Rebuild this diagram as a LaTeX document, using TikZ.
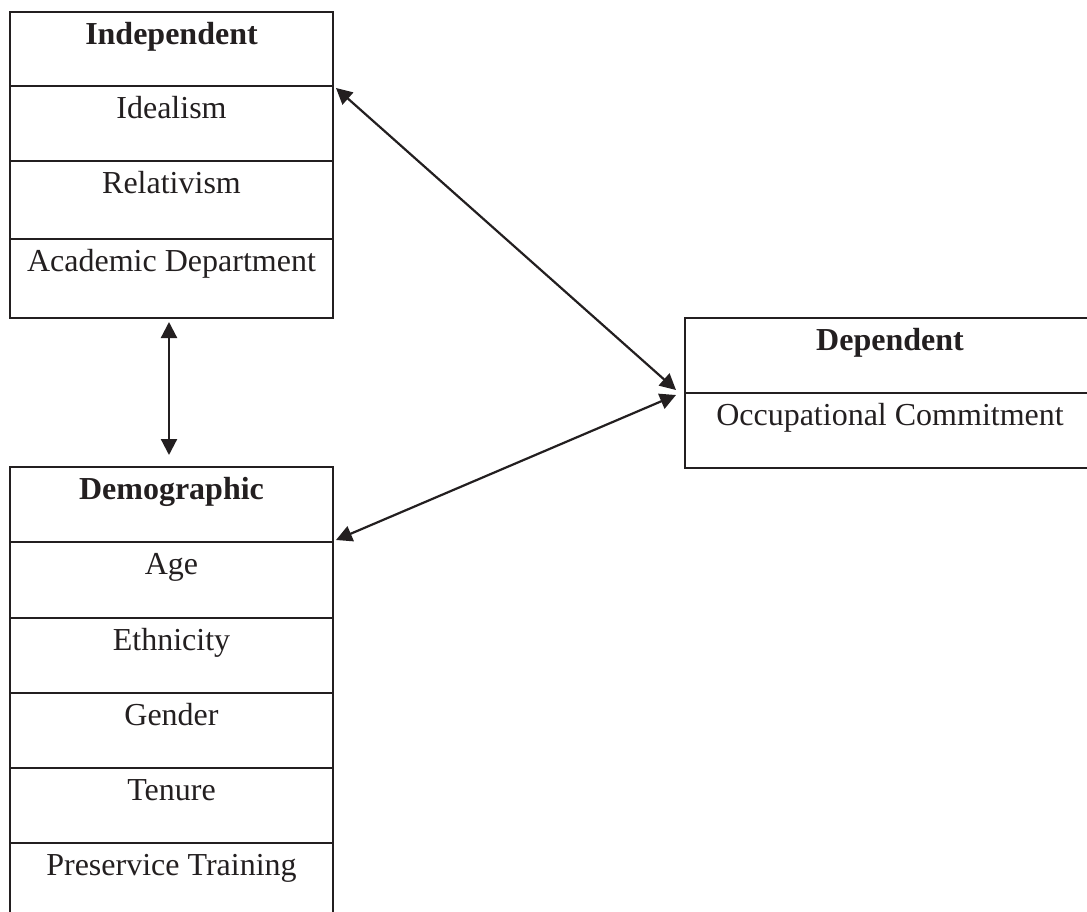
\documentclass[tikz,border=0pt]{standalone}
\usepackage{fontspec}
\setmainfont{Liberation Serif}
\usetikzlibrary{arrows.meta}
\definecolor{ink}{RGB}{35,31,32}
\tikzset{
  cell/.style={draw=ink, line width=2pt, text=ink, anchor=north, minimum width=323pt,
    inner xsep=0pt, inner ysep=0pt, text height=32pt, align=center,
    font=\fontsize{32}{38}\selectfont},
  wcell/.style={cell, minimum width=410pt},
  arr/.style={draw=ink, line width=2.2pt, {Triangle[length=16pt,width=16pt]}-{Triangle[length=16pt,width=16pt]}}
}
\begin{document}
\begin{tikzpicture}[x=1pt,y=-1pt]
\useasboundingbox (0,0) rectangle (1087,911);
\fill[white] (0,0) rectangle (1087,911);
\begin{scope}
\clip (0,0) rectangle (1087,911);
% Independent block
\node[cell, text depth=42pt] (ind) at (171.5,11) {\textbf{Independent}};
\node[cell, text depth=43pt] (idl) at (171.5,85) {Idealism};
\node[cell, text depth=46pt] (rel) at (171.5,160) {Relativism};
\node[cell, text depth=47pt] (acad) at (171.5,238) {Academic Department};
% Demographic block
\node[cell, text depth=43pt] (dem) at (171.5,466) {\textbf{Demographic}};
\node[cell, text depth=44pt] (age) at (171.5,541) {Age};
\node[cell, text depth=43pt] (eth) at (171.5,617) {Ethnicity};
\node[cell, text depth=43pt] (gen) at (171.5,692) {Gender};
\node[cell, text depth=43pt] (ten) at (171.5,767) {Tenure};
\node[cell, text depth=53pt] (pre) at (171.5,842) {Preservice Training};
% Dependent block
\node[wcell, text depth=43pt] (dep) at (890,317) {\textbf{Dependent}};
\node[wcell, text depth=43pt] (occ) at (890,392) {Occupational Commitment};
\end{scope}
% connectors
\draw[arr] ([xshift=-2.5pt,yshift=-3pt]acad.south) -- ([xshift=-2.5pt,yshift=11pt]dem.north);
\draw[arr] ([xshift=2pt,yshift=-3pt]idl.north east) -- ([xshift=-8pt,yshift=2pt]occ.north west);
\draw[arr] ([xshift=2pt,yshift=1pt]age.north east) -- ([xshift=-8pt,yshift=-3pt]occ.north west);
\end{tikzpicture}
\end{document}
